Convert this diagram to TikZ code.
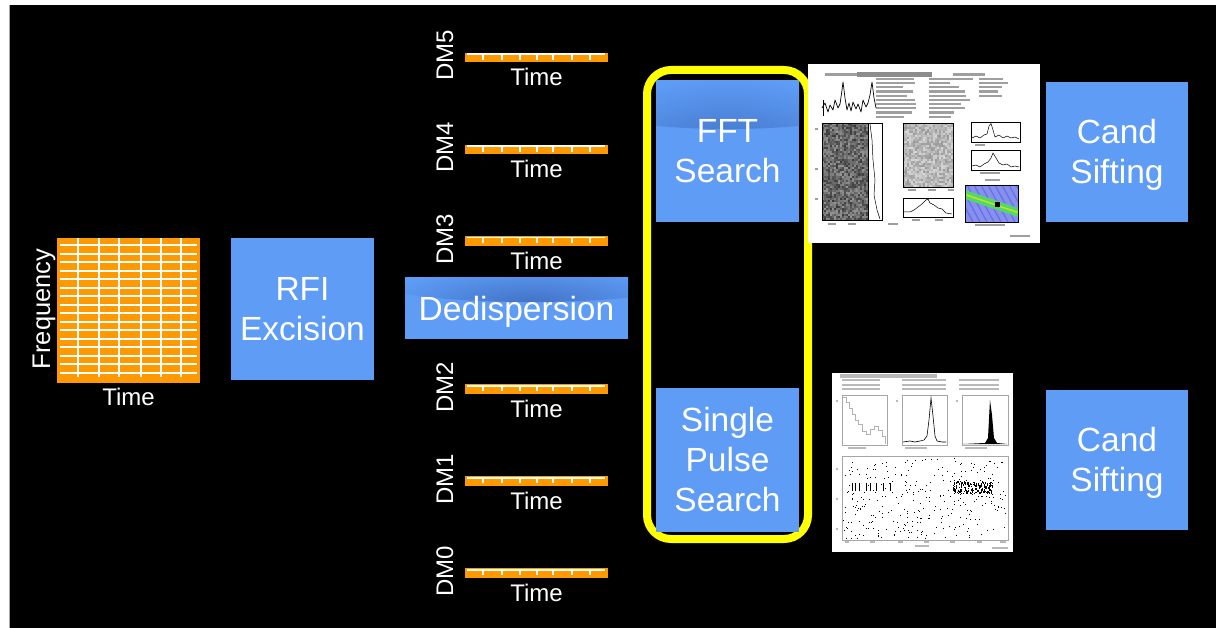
\documentclass[tikz,border=0pt]{standalone}
\usepackage{fontspec}
\setmainfont{Liberation Sans}
\definecolor{boxblue}{RGB}{94,156,246}
\definecolor{shadowblue}{RGB}{66,115,198}
\definecolor{orng}{RGB}{255,153,0}
\definecolor{yel}{RGB}{255,255,0}
\definecolor{cmapbg}{RGB}{135,145,235}
\definecolor{cmapgreen}{RGB}{80,215,110}
\begin{document}
\begin{tikzpicture}[x=1pt,y=-1pt,
  box/.style={fill=boxblue,text=white,font=\fontsize{33.5}{40}\selectfont,align=center,inner sep=0pt,outer sep=0pt},
  lbl/.style={text=white,font=\fontsize{24}{28}\selectfont,inner sep=0pt,outer sep=0pt},
  gridline/.style={white,line width=2pt},
  blank/.style={inner sep=0pt,outer sep=0pt,anchor=north west},
  txtbar/.style={fill=gray!75},
  frame/.style={draw=black,line width=0.5pt},
  curve/.style={black,line width=0.7pt,line join=round}]
\useasboundingbox (0,0) rectangle (1216,628);
\fill[white] (0,0) rectangle (1216,628);
\fill[black] (9,5) rectangle (1216,628);
\draw[gray!70,line width=0.8pt] (9.4,5) -- (9.4,628);

% ---------- spectrogram ----------
\node[blank,fill=orng,minimum width=143pt,minimum height=145pt] (spec) at (57,238) {};
\foreach \i in {0,...,15} \draw[gridline] (60,{245+\i*8.53}) -- (197,{245+\i*8.53});
\foreach \x in {78,99,119,141,161,181} \draw[gridline] (\x,238.5) -- (\x,377);
\node[lbl,rotate=90,anchor=base,font=\fontsize{25.5}{28}\selectfont] (freq) at (50,309) {Frequency};
\node[lbl,anchor=base] (spectime) at (128.5,405) {Time};

% ---------- RFI ----------
\node[box,minimum width=143pt,minimum height=142pt] (rfi) at (302.5,309) {RFI\\Excision};

% ---------- Dedispersion ----------
\node[box,minimum width=223pt,minimum height=61pt,text depth=0pt,
  path picture={\shade[inner color=shadowblue,outer color=boxblue] ([xshift=14pt,yshift=-6pt]path picture bounding box.north) ellipse [x radius=150pt,y radius=18pt];}]
  (dedisp) at (516.5,308.5) {Dedispersion};

% ---------- DM time series ----------
\foreach \lab/\yc/\nm in {DM5/57.5/a,DM4/149.5/b,DM3/241/c,DM2/389/d,DM1/481/e,DM0/573/f}{
  \node[fill=orng,minimum width=143pt,minimum height=9.5pt,inner sep=0pt] (bar\nm) at (536.5,\yc) {};
  \draw[white,line width=1.5pt] (467,{\yc-3.25}) -- (605,{\yc-3.25});
  \foreach \tx in {483,502,520,537,553,572,590}
    \draw[white,line width=1.7pt] (\tx,{\yc-3.25}) -- (\tx,{\yc+2.4});
  \node[lbl,anchor=base] (time\nm) at (536.5,{\yc+28.5}) {Time};
  \node[lbl,rotate=90,anchor=base] (dm\nm) at (453,{\yc-2}) {\lab};
}

% ---------- searches ----------
\node[draw=yel,line width=8pt,rounded corners=24pt,minimum width=161pt,minimum height=469pt,inner sep=0pt] (sel) at (727.5,304.5) {};
\node[box,minimum width=143pt,minimum height=141pt,
  path picture={\shade[inner color=shadowblue,outer color=boxblue] ([yshift=-22pt]path picture bounding box.north) ellipse [x radius=150pt,y radius=26pt];}]
  (fft) at (727.5,151.5) {FFT\\Search};
\node[box,minimum width=143pt,minimum height=144pt] (sps) at (727.5,460) {Single\\Pulse\\Search};

% ---------- candidate sifting ----------
\node[box,minimum width=142pt,minimum height=140pt] (cand1) at (1117,152) {Cand\\Siftin\smash{g}};
\node[box,minimum width=142pt,minimum height=140pt] (cand2) at (1117,460) {Cand\\Siftin\smash{g}};

% ---------- periodicity candidate plot ----------
\node[blank,fill=white,minimum width=232pt,minimum height=179pt] (plotA) at (808,64) {};
\pgfmathsetseed{11}
% title
\fill[txtbar] (825,73.5) rectangle (857,76.5);
\fill[gray!90] (857,72.5) rectangle (932,77);
\fill[txtbar] (953,73.5) rectangle (985,76.5);
% text block
\foreach \r in {0,...,9}{
  \pgfmathsetmacro\La{22+25*rnd}
  \pgfmathsetmacro\Lb{20+25*rnd}
  \pgfmathsetmacro\Lc{15+25*rnd}
  \fill[txtbar] (876,{80+\r*4.2}) rectangle ++(\La,-2.2);
  \fill[txtbar] (929,{80+\r*4.2}) rectangle ++(\Lb,-2.2);
  \ifnum\r<5 \fill[txtbar] (979,{80+\r*4.2}) rectangle ++(\Lc,-2.2); \fi
}
% top-left profile
\draw[curve] (822,108)--(825,103)--(828,112)--(830,105)--(833,110)--(835,100)--(838,108)--(840,104)--(842,90)--(843,82)--(845,98)--(847,110)--(849,103)--(851,111)--(853,102)--(856,109)--(858,104)--(861,112)--(863,100)--(866,107)--(868,103)--(870,95)--(872,82)--(874,98)--(876,108);
\draw[black,line width=0.4pt] (823,100)--(823,116);
% big greyscale panel
\foreach \i in {0,...,22}{\foreach \j in {0,...,47}{
  \pgfmathsetmacro\g{42+35*rnd}
  \fill[black!\g] ({822+2*\i},{123+2.02*\j}) rectangle ++(2,2.02);
}}
\draw[frame] (822,123) rectangle (868,220);
\draw[frame] (868,123) rectangle (882,220);
\draw[curve,line width=0.5pt] (870,124)--(872,140)--(873,160)--(875,180)--(874,195)--(877,210)--(880,219);
% middle greyscale panel
\foreach \i in {0,...,24}{\foreach \j in {0,...,31}{
  \pgfmathsetmacro\g{15+25*rnd}
  \fill[black!\g] ({903+2*\i},{123+2*\j}) rectangle ++(2,2);
}}
\draw[frame] (903,123) rectangle (953,187);
% middle profile
\draw[frame] (903,198) rectangle (953,217);
\draw[curve,line width=0.5pt] (904,212)--(910,212)--(914,210)--(918,207)--(922,204)--(926,200)--(928,199)--(930,203)--(934,205)--(938,208)--(942,209)--(946,213)--(952,214);
% right panels
\draw[frame] (971,122) rectangle (1020,142);
\draw[curve,line width=0.5pt] (972,138)--(976,136)--(980,138)--(984,135)--(987,134)--(989,126)--(991,123.5)--(993,130)--(995,137)--(999,135)--(1003,138)--(1007,136)--(1011,138)--(1015,137)--(1019,139);
\draw[frame] (971,150) rectangle (1020,170);
\draw[curve,line width=0.5pt] (972,166)--(976,165)--(980,167)--(984,164)--(988,162)--(991,158)--(993,153)--(996,158)--(999,163)--(1003,165)--(1007,164)--(1011,167)--(1015,166)--(1019,167);
% colour panel
\begin{scope}
\clip (965,185) rectangle (1018,222);
\fill[cmapbg] (965,185) rectangle (1018,222);
\foreach \s in {-40,-33,...,60} \draw[blue!25!cmapbg,line width=1.2pt] ({965+\s},185) -- ({985+\s},222);
\fill[cmapgreen] (965,190) -- (1018,208) -- (1018,217) -- (965,199) -- cycle;
\draw[yellow!80!green,line width=1.5pt] (965,194.5) -- (1018,212.5);
\fill[black] (994.5,202) rectangle (1000,207.5);
\end{scope}
\draw[frame] (965,185) rectangle (1018,222);
% axis labels
\foreach \x/\y/\w in {828/225/8,848/225/8,888/225/10,908/191/8,928/191/8,948/191/6,912/221/8,935/221/8,975/146/10,980/174/20,985/181/15,975/226/30,1010/237/20,815/170/3,815/130/3,815/200/3}
  \fill[txtbar] (\x,\y) rectangle ++(\w,-2);

% ---------- single pulse plot ----------
\node[blank,fill=white,minimum width=181pt,minimum height=179pt] (plotB) at (832,373) {};
\fill[gray!55] (840,374.5) rectangle (937,378);
\foreach \r in {0,1,2}{
  \fill[gray!55] (842,{381.5+\r*4.3}) rectangle ++(38,-2);
  \fill[gray!55] (902,{381.5+\r*4.3}) rectangle ++(44,-2);
  \fill[gray!55] (959,{381.5+\r*4.3}) rectangle ++(40,-2);
}
\draw[gray!70,line width=0.4pt] (842,395) rectangle (887,445);
\draw[gray!60,line width=0.6pt] (843,397)--(846,397)--(846,402)--(849,402)--(849,408)--(852,408)--(852,414)--(855,414)--(855,420)--(858,420)--(858,424)--(862,424)--(862,431)--(866,431)--(866,434)--(870,434)--(870,429)--(874,429)--(874,426)--(878,426)--(878,430)--(882,430)--(882,436)--(885,436)--(885,444);
\draw[gray!70,line width=0.4pt] (902,395) rectangle (947,445);
\draw[black,line width=0.6pt] (903,442)--(910,441)--(915,442)--(920,441)--(924,440)--(927,436)--(929,420)--(931,398)--(933,416)--(935,436)--(937,441)--(942,442)--(946,442);
\draw[gray!70,line width=0.4pt] (962,395) rectangle (1008,445);
\fill[black] (963,444)--(985,443)--(988,438)--(990,400)--(992,415)--(994,438)--(997,443)--(1007,444)--cycle;
\foreach \x/\y/\w in {848/449/18,905/449/22,965/449/22,836/402/2,896/402/2,956/402/2}
  \fill[gray!55] (\x,\y) rectangle ++(\w,-2);
\draw[gray!70,line width=0.4pt] (842,456) rectangle (1008,540);
\pgfmathsetseed{5}
\foreach \k in {1,...,320}{
  \pgfmathsetmacro\px{843+163*rnd}
  \pgfmathsetmacro\py{458+80*rnd}
  \fill[black] (\px,\py) rectangle ++(0.9,0.9);
}
\foreach \k in {1,...,150}{
  \pgfmathsetmacro\px{953+39*rnd}
  \pgfmathsetmacro\py{481+12*rnd}
  \fill[black] (\px,\py) rectangle ++(1,1.6);
}
\foreach \x in {852,855,859,866,870,876,883,890}
  \fill[black] (\x,483) rectangle ++(1,8);
\foreach \x/\y/\w in {845/543/4,870/543/5,898/543/5,924/543/5,950/543/5,977/543/5,1000/543/6,915/547/14,836/500/2,836/470/2,836/530/2,992/549/16}
  \fill[gray!55] (\x,\y) rectangle ++(\w,-2);
\end{tikzpicture}
\end{document}
